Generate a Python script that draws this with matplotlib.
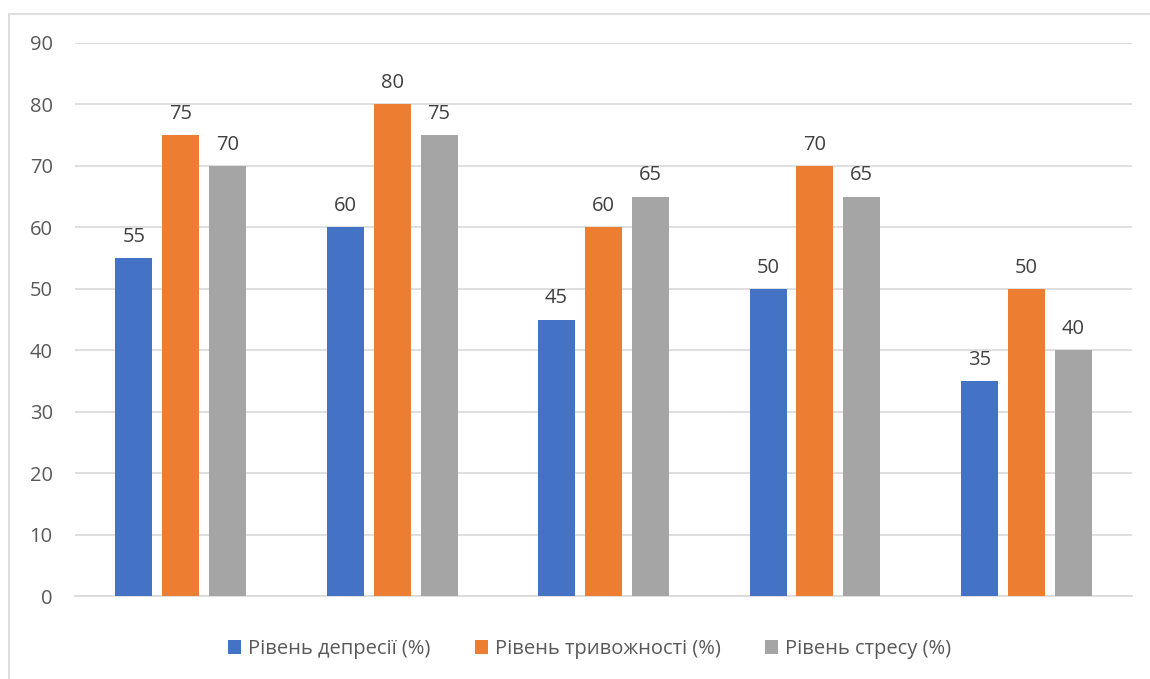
import matplotlib.pyplot as plt
import numpy as np
from matplotlib.patches import Rectangle

plt.rcParams['font.family'] = ['Open Sans', 'DejaVu Sans']

# дані з діаграми
groups = [1, 2, 3, 4, 5]
depresiya = [55, 60, 45, 50, 35]
tryvozhnist = [75, 80, 60, 70, 50]
stres = [70, 75, 65, 65, 40]
series_names = ['Рівень депресії (%)', 'Рівень тривожності (%)', 'Рівень стресу (%)']
colors = ['#4472c4', '#ed7d31', '#a5a5a5']
yticks = [0, 10, 20, 30, 40, 50, 60, 70, 80, 90]

fig = plt.figure(figsize=(11.5, 6.79), dpi=100)
ax = fig.add_axes([0.0652, 0.1222, 0.9192, 0.8145])

x = np.arange(len(groups))
w = 0.175
step = 0.222
for i, (vals, name, c) in enumerate(zip([depresiya, tryvozhnist, stres], series_names, colors)):
    bars = ax.bar(x + (i - 1) * step, vals, width=w, color=c, label=name, zorder=3)
    for b, v in zip(bars, vals):
        ax.annotate(str(v), (b.get_x() + b.get_width() / 2, v), xytext=(0, 8),
                    textcoords='offset points', ha='center', va='bottom',
                    fontsize=14.5, color='#404040')

ax.set_xlim(-0.5, len(groups) - 0.5)
ax.set_ylim(0, 90)
ax.set_yticks(yticks)
ax.set_xticks([])
ax.yaxis.grid(True, color='#d9d9d9', linewidth=1.2, zorder=0)
for s in ['top', 'right', 'left']:
    ax.spines[s].set_visible(False)
ax.spines['bottom'].set_color('#d9d9d9')
ax.spines['bottom'].set_linewidth(1.2)
ax.tick_params(axis='y', length=0, labelsize=14.5, labelcolor='#595959', pad=16)

ax.legend(loc='upper center', bbox_to_anchor=(0.487, -0.045), ncol=3, frameon=False,
          fontsize=14.5, labelcolor='#595959', handlelength=0.65, handleheight=0.65,
          handletextpad=0.35, columnspacing=2.2)

# рамка діаграми
fig.patches.append(Rectangle((9 / 1150, -0.05), 1.2, 1 - 14 / 679 + 0.05,
                             transform=fig.transFigure, fill=False,
                             edgecolor='#d9d9d9', linewidth=1.2))

fig.savefig('out.png', dpi=100)
